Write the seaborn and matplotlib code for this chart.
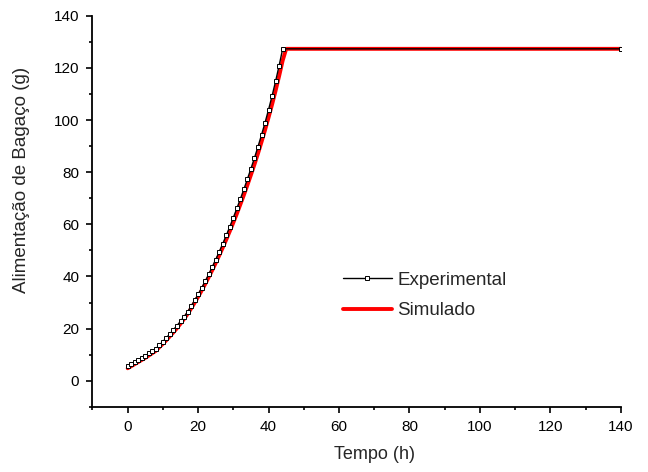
import numpy as np
import pandas as pd
import matplotlib
matplotlib.use('Agg')
import matplotlib.pyplot as plt
import seaborn as sns
from matplotlib.ticker import MultipleLocator

# Experimental feed (h, g)
exp_tempo = list(range(0, 45)) + [140]
exp_bagaco = [5.5, 6.3, 7.1, 7.9, 8.8, 9.6, 10.5, 11.4, 12.3, 13.65,
              15.05, 16.5, 18.0, 19.55, 21.15, 22.8, 24.5, 26.4, 28.6, 30.8,
              33.1, 35.6, 38.1, 40.8, 43.6, 46.5, 49.5, 52.6, 55.8, 59.1,
              62.6, 66.1, 69.8, 73.5, 77.4, 81.4, 85.5, 89.8, 94.3, 99.0,
              104.0, 109.3, 114.9, 120.9, 127.3, 127.3]

# Simulated feed (h, g)
sim_tempo = list(range(0, 46)) + [140]
sim_bagaco = [4.8, 5.6, 6.4, 7.2, 8.0, 8.8, 9.7, 10.6, 11.5, 12.9,
              14.2, 15.6, 17.1, 18.6, 20.2, 21.9, 23.7, 25.6, 27.7, 29.9,
              32.2, 34.6, 37.1, 39.7, 42.4, 45.2, 48.1, 51.1, 54.2, 57.4,
              60.7, 64.1, 67.7, 71.3, 75.1, 79.0, 83.0, 87.2, 91.6, 96.2,
              101.0, 106.0, 111.3, 116.9, 122.8, 127.3, 127.3]

sns.set_style('ticks')
plt.rcParams['font.family'] = ['Liberation Sans', 'DejaVu Sans']

fig = plt.figure(figsize=(6.48, 4.72), dpi=100)
ax = fig.add_axes([0.1427, 0.138, 0.8153, 0.8287])

sns.lineplot(x=sim_tempo, y=sim_bagaco, ax=ax, color='#ff0000', linewidth=2.8,
             sort=False, label='Simulado', zorder=2)
sns.lineplot(x=exp_tempo, y=exp_bagaco, ax=ax, color='black', linewidth=1.0,
             marker='s', markersize=3, markerfacecolor='white',
             markeredgecolor='black', markeredgewidth=0.7,
             sort=False, label='Experimental', zorder=3)

ax.set_xlim(-10, 140)
ax.set_ylim(-10, 140)
ax.xaxis.set_minor_locator(MultipleLocator(10))
ax.yaxis.set_minor_locator(MultipleLocator(10))
ax.set_xticks([0, 20, 40, 60, 80, 100, 120, 140])
ax.set_yticks([0, 20, 40, 60, 80, 100, 120, 140])

sns.despine(ax=ax)
for s in ['left', 'bottom']:
    ax.spines[s].set_linewidth(1.3)
    ax.spines[s].set_color('black')
ax.tick_params(which='major', direction='out', length=4.5, width=1.2,
               labelsize=11, pad=5, colors='black')
ax.tick_params(which='minor', direction='out', length=2.5, width=1.2, colors='black')

ax.set_xlabel('Tempo (h)', fontsize=13)
ax.set_ylabel('Alimentação de Bagaço (g)', fontsize=13.5)
ax.xaxis.set_label_coords(0.533, -0.1)
ax.yaxis.set_label_coords(-0.118, 0.58)

h, l = ax.get_legend_handles_labels()
order = [l.index('Experimental'), l.index('Simulado')]
ax.legend([h[i] for i in order], [l[i] for i in order], loc='center left',
          bbox_to_anchor=(0.474, 0.285), frameon=False, fontsize=13.5,
          handlelength=2.6, handletextpad=0.3, labelspacing=0.7,
          borderpad=0, borderaxespad=0, numpoints=1)

fig.savefig('out.png', dpi=100)
